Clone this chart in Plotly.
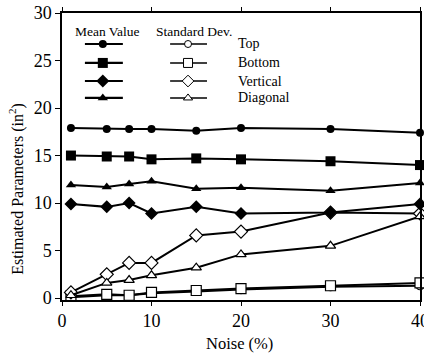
import plotly.graph_objects as go

noise = [1, 5, 7.5, 10, 15, 20, 30, 40]
top_mean = [17.9, 17.8, 17.8, 17.8, 17.6, 17.9, 17.8, 17.4]
bottom_mean = [15.0, 14.9, 14.9, 14.6, 14.7, 14.6, 14.4, 14.0]
vert_mean = [9.9, 9.6, 10.0, 8.9, 9.6, 8.9, 9.0, 9.9]
diag_mean = [11.9, 11.7, 12.0, 12.3, 11.5, 11.6, 11.3, 12.1]
top_sd = [0.1, 0.3, 0.3, 0.5, 0.7, 0.9, 1.2, 1.3]
bottom_sd = [0.2, 0.4, 0.3, 0.6, 0.8, 1.0, 1.3, 1.6]
vert_sd = [0.6, 2.5, 3.7, 3.7, 6.6, 7.0, 9.0, 8.9]
diag_sd = [0.3, 1.6, 1.9, 2.4, 3.2, 4.6, 5.5, 8.6]

names = ["Top", "Bottom", "Vertical", "Diagonal"]
symbols = ["circle", "square", "diamond", "triangle-up"]
sizes = [8, 10, 10, 9]
means = [top_mean, bottom_mean, vert_mean, diag_mean]
sds = [top_sd, bottom_sd, vert_sd, diag_sd]

FONT = "Liberation Serif"
fig = go.Figure()

for nm, sym, sz, m, s in zip(names, symbols, sizes, means, sds):
    fig.add_trace(go.Scatter(x=noise, y=s, mode="lines+markers", name=nm + " SD",
                             line=dict(color="black", width=2),
                             marker=dict(symbol=sym, size=sz, color="white",
                                         line=dict(width=1.2, color="black")),
                             cliponaxis=False, showlegend=False))
for nm, sym, sz, m, s in zip(names, symbols, sizes, means, sds):
    fig.add_trace(go.Scatter(x=noise, y=m, mode="lines+markers", name=nm + " mean",
                             line=dict(color="black", width=2),
                             marker=dict(symbol=sym, size=sz, color="black"),
                             cliponaxis=False, showlegend=False))

# custom two-column legend (layout positions in paper fractions)
row_y = [0.892, 0.826, 0.763, 0.704]
for i, (nm, sym, sz) in enumerate(zip(names, symbols, sizes)):
    fig.add_shape(type="line", xref="paper", yref="paper", x0=0.064, x1=0.17,
                  y0=row_y[i], y1=row_y[i], line=dict(color="black", width=2.2),
                  layer="below")
    fig.add_shape(type="line", xref="paper", yref="paper", x0=0.302, x1=0.405,
                  y0=row_y[i], y1=row_y[i], line=dict(color="black", width=1.6),
                  layer="below")
    fig.add_annotation(x=0.485, y=row_y[i], xref="paper", yref="paper", text=nm,
                       showarrow=False, xanchor="left", yanchor="middle",
                       font=dict(family=FONT, size=14, color="black"))
    fig.add_trace(go.Scatter(x=[0.114 * 40], y=[-0.2 + row_y[i] * 30.2], mode="markers",
                             marker=dict(symbol=sym, size=sz, color="black"),
                             cliponaxis=False, showlegend=False, hoverinfo="skip"))
    fig.add_trace(go.Scatter(x=[0.352 * 40], y=[-0.2 + row_y[i] * 30.2], mode="markers",
                             marker=dict(symbol=sym, size=sz - 1, color="white",
                                         line=dict(width=1, color="black")),
                             cliponaxis=False, showlegend=False, hoverinfo="skip"))

fig.add_annotation(x=0.03, y=0.935, xref="paper", yref="paper", text="Mean Value",
                   showarrow=False, xanchor="left", yanchor="middle",
                   font=dict(family=FONT, size=13.5, color="black"))
fig.add_annotation(x=0.258, y=0.935, xref="paper", yref="paper", text="Standard Dev.",
                   showarrow=False, xanchor="left", yanchor="middle",
                   font=dict(family=FONT, size=13.5, color="black"))

fig.add_annotation(x=-0.126, y=0.387, xref="paper", yref="paper",
                   text="Estimated Parameters (in<sup>2</sup>)", textangle=-90,
                   showarrow=False, xanchor="center", yanchor="middle",
                   font=dict(family=FONT, size=16, color="black"))
fig.add_annotation(x=0.497, y=-0.15, xref="paper", yref="paper", text="Noise (%)",
                   showarrow=False, xanchor="center", yanchor="middle",
                   font=dict(family=FONT, size=16.5, color="black"))

fig.update_layout(
    width=424, height=359,
    margin=dict(l=62, r=4, t=13, b=59, autoexpand=False),
    paper_bgcolor="white", plot_bgcolor="white",
    font=dict(family=FONT, size=18, color="black"),
    xaxis=dict(range=[0, 40], tickvals=[0, 10, 20, 30, 40], ticks="outside",
               ticklen=4, tickcolor="black", showline=True, linecolor="black",
               linewidth=1.5, mirror="ticks", showgrid=False, zeroline=False,
               automargin=False, ticklabeloverflow="allow",
               tickfont=dict(family=FONT, size=18)),
    yaxis=dict(range=[-0.2, 30], tickvals=[0, 5, 10, 15, 20, 25, 30], ticks="outside",
               ticklen=5, tickcolor="black", showline=True, linecolor="black",
               linewidth=1.5, mirror=True, showgrid=False, zeroline=False,
               automargin=False, tickfont=dict(family=FONT, size=18)),
)

fig.write_html("out.html", config={"displayModeBar": False},
               post_script="document.body.style.margin='0';document.body.style.overflow='hidden';")
